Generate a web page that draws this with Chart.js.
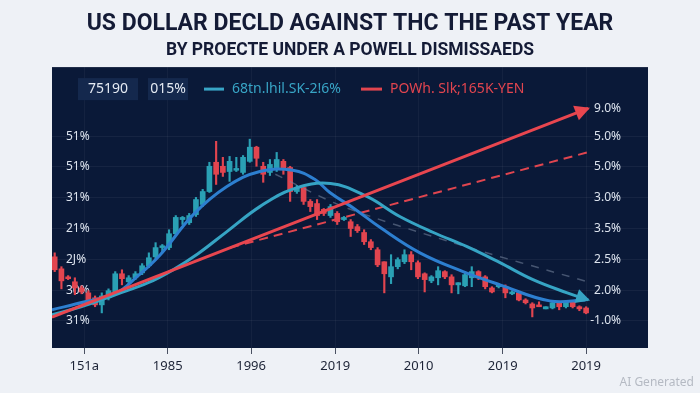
<!DOCTYPE html>
<html>
<head>
<meta charset="utf-8">
<script src="https://cdn.jsdelivr.net/npm/chart.js@4.4.1/dist/chart.umd.min.js"></script>
<style>
  html, body { margin: 0; padding: 0; background: #eef1f6; }
  #chart { display: block; }
</style>
</head>
<body>
<canvas id="chart" width="700" height="393"></canvas>
<script>
'use strict';

// candles, one per period (index = x position)
const candleOpen = [2.08, 1.69, 1.43, 1.27, 1.07, 0.91, 0.75, 0.52, 0.75, 0.94,
  1.53, 1.27, 1.40, 1.56, 1.79, 2.08, 2.38, 2.38, 2.83, 3.29,
  3.19, 3.45, 3.78, 4.20, 5.15, 5.02, 4.85, 4.89, 4.82, 5.18,
  5.64, 5.02, 4.82, 4.92, 5.18, 4.98, 4.20, 4.33, 3.88, 3.81,
  3.62, 3.42, 3.49, 3.29, 3.22, 3.06, 2.87, 2.57, 2.31, 1.92,
  1.43, 1.76, 1.92, 2.15, 1.89, 1.53, 1.30, 1.40, 1.60, 1.43,
  1.17, 1.14, 1.40, 1.60, 1.43, 1.07, 1.11, 1.11, 0.88, 0.91,
  0.68, 0.55, 0.52, 0.39, 0.42, 0.59, 0.46, 0.62, 0.46, 0.42];
const candleClose = [1.66, 1.30, 1.37, 1.07, 0.94, 0.62, 0.52, 0.81, 0.98, 1.53,
  1.37, 1.40, 1.53, 1.79, 2.05, 2.38, 2.44, 2.83, 3.36, 3.36,
  3.42, 3.94, 4.20, 5.02, 4.76, 4.82, 5.18, 4.95, 5.31, 5.64,
  5.28, 4.76, 5.08, 5.24, 4.92, 4.20, 4.33, 3.88, 3.71, 3.42,
  3.49, 3.71, 3.22, 3.36, 3.00, 2.93, 2.57, 2.38, 1.82, 1.53,
  1.76, 1.99, 2.15, 1.92, 1.43, 1.34, 1.43, 1.63, 1.43, 1.17,
  1.24, 1.50, 1.60, 1.40, 1.11, 0.94, 1.17, 0.91, 0.94, 0.68,
  0.59, 0.42, 0.46, 0.46, 0.59, 0.46, 0.62, 0.46, 0.39, 0.26];
const candleHigh = [2.21, 1.76, 1.47, 1.40, 1.14, 0.98, 0.81, 0.91, 1.04, 1.60,
  1.66, 1.47, 1.60, 1.86, 2.21, 2.54, 2.48, 2.96, 3.42, 3.39,
  3.49, 4.01, 4.27, 5.15, 5.83, 5.31, 5.34, 5.31, 5.37, 5.90,
  5.67, 5.15, 5.24, 5.47, 5.24, 5.02, 4.40, 4.40, 3.94, 3.94,
  3.65, 3.78, 3.55, 3.39, 3.29, 3.13, 2.96, 2.64, 2.38, 1.92,
  2.15, 2.05, 2.31, 2.25, 1.95, 1.56, 1.47, 1.76, 1.63, 1.50,
  1.24, 1.60, 1.76, 1.63, 1.47, 1.11, 1.21, 1.17, 0.98, 0.94,
  0.72, 0.59, 0.62, 0.46, 0.62, 0.62, 0.65, 0.65, 0.49, 0.46];
const candleLow = [1.60, 1.04, 1.34, 0.85, 0.88, 0.55, 0.46, 0.26, 0.68, 0.88,
  1.17, 1.21, 1.34, 1.50, 1.73, 1.99, 2.21, 2.31, 2.80, 3.13,
  3.13, 3.39, 3.71, 4.17, 4.43, 4.69, 4.53, 4.85, 4.76, 5.15,
  5.02, 4.50, 4.72, 4.85, 4.76, 3.88, 4.14, 3.78, 3.55, 3.29,
  3.42, 3.36, 3.13, 3.26, 2.74, 2.87, 2.48, 2.31, 1.76, 0.91,
  1.21, 1.69, 1.86, 1.66, 1.37, 0.94, 1.24, 1.17, 1.37, 0.91,
  0.88, 1.11, 1.11, 1.34, 1.04, 0.91, 1.07, 0.75, 0.85, 0.65,
  0.55, 0.13, 0.46, 0.39, 0.39, 0.36, 0.42, 0.42, 0.33, 0.23];

// trend curves (x in candle index, y in axis units)
const fastMaX = [-0.4, 4.5, 9.0, 12.2, 15.7, 20.6, 25.6, 30.5, 35.4, 38.7, 40.9, 44.7, 48.4, 54.3, 60.7, 66.2, 73.6, 78.9];
const fastMaY = [0.36, 0.62, 0.88, 1.43, 2.15, 3.45, 4.36, 4.85, 4.89, 4.59, 4.17, 3.62, 3.03, 2.21, 1.60, 1.17, 0.65, 0.68];
const slowMaX = [-0.4, 3.9, 9.0, 13.9, 17.6, 21.3, 25.6, 30.5, 35.4, 41.0, 46.4, 51.3, 56.3, 61.3, 66.2, 71.1, 76.2, 79.3];
const slowMaY = [0.20, 0.46, 0.85, 1.24, 1.66, 2.18, 2.90, 3.71, 4.28, 4.46, 4.04, 3.39, 2.87, 2.41, 1.89, 1.34, 0.91, 0.68];
const trendX = [-0.4, 79.3];
const trendY = [0.12, 6.90];
const trendDashX = [26.1, 79.2];
const trendDashY = [2.38, 5.47];
const grayDashX = [32.8, 42.9, 59.2, 79.2];
const grayDashY = [4.76, 3.71, 2.54, 1.27];

// axes
const xTickPos = [4.4, 16.8, 29.2, 41.7, 54.1, 66.6, 79.0];
const xTickLabels = ['151a', '1985', '1996', '2019', '2010', '2019', '2019'];
const leftTickPos = [0, 1, 2, 3, 4, 5, 6];
const leftTickLabels = ['31%', '30%', '2J%', '21%', '31%', '51%', '51%'];
const rightTickPos = [0, 1, 2, 3, 4, 5, 6, 6.9];
const rightTickLabels = ['-1.0%', '2.0%', '2.5%', '3.5%', '3.0%', '5.0%', '5.0%', '9.0%'];

const UP = '#2aa0b4';
const DOWN = '#e2454f';
const candleColors = candleOpen.map((o, i) => candleClose[i] >= o ? UP : DOWN);
const pts = (xs, ys) => xs.map((x, i) => ({x: x, y: ys[i]}));

// dark panel behind the plot
const panelBg = {
  id: 'panelBg',
  beforeDraw(chart) {
    const {ctx, chartArea: a} = chart;
    ctx.save();
    ctx.fillStyle = '#0a1938';
    ctx.fillRect(a.left, a.top, a.right - a.left, a.bottom - a.top);
    ctx.restore();
  }
};

// arrow heads at the end of the marked lines
const arrowHeads = {
  id: 'arrowHeads',
  afterDatasetsDraw(chart) {
    const ctx = chart.ctx;
    chart.data.datasets.forEach((ds, i) => {
      if (!ds.arrow) return;
      const pts = chart.getDatasetMeta(i).data;
      const p1 = pts[pts.length - 2], p2 = pts[pts.length - 1];
      const ang = Math.atan2(p2.y - p1.y, p2.x - p1.x);
      const len = ds.arrow, w = ds.arrow * 0.6;
      ctx.save();
      ctx.translate(p2.x, p2.y);
      ctx.rotate(ang);
      ctx.fillStyle = ds.borderColor;
      ctx.beginPath();
      ctx.moveTo(2, 0);
      ctx.lineTo(-len, -w);
      ctx.lineTo(-len, w);
      ctx.closePath();
      ctx.fill();
      ctx.restore();
    });
  }
};

// top legend row inside the panel + watermark
const legendRow = {
  id: 'legendRow',
  afterDraw(chart) {
    const {ctx, chartArea: a} = chart;
    const cy = a.top + 22;
    ctx.save();
    ctx.font = '14px "Noto Sans"';
    ctx.textBaseline = 'middle';
    ctx.textAlign = 'center';
    ctx.fillStyle = '#14284d';
    ctx.fillRect(a.left + 26, cy - 11, 60, 22);
    ctx.fillRect(a.left + 96, cy - 11, 40, 22);
    ctx.fillStyle = '#e4eaf3';
    ctx.fillText('75190', a.left + 56, cy);
    ctx.fillText('015%', a.left + 116, cy);
    ctx.textAlign = 'left';
    ctx.lineWidth = 3;
    ctx.strokeStyle = '#38a5c6';
    ctx.beginPath(); ctx.moveTo(a.left + 152, cy); ctx.lineTo(a.left + 172, cy); ctx.stroke();
    ctx.fillStyle = '#38a5c6';
    ctx.fillText('68tn.lhil.SK-2!6%', a.left + 180, cy);
    ctx.strokeStyle = DOWN;
    ctx.beginPath(); ctx.moveTo(a.left + 309, cy); ctx.lineTo(a.left + 330, cy); ctx.stroke();
    ctx.fillStyle = DOWN;
    ctx.fillText('POWh. Slk;165K-YEN', a.left + 338, cy);
    ctx.font = '12px "Noto Sans"';
    ctx.textAlign = 'right';
    ctx.fillStyle = '#b5bac3';
    ctx.fillText('AI Generated', chart.width - 6, chart.height - 10);
    ctx.restore();
  }
};

new Chart(document.getElementById('chart'), {
  type: 'bar',
  data: {
    datasets: [{
      type: 'line', data: pts(trendX, trendY), borderColor: '#e8464f', borderWidth: 3,
      pointRadius: 0, arrow: 13, yAxisID: 'yL', order: 1
    }, {
      type: 'line', data: pts(slowMaX, slowMaY), borderColor: '#36a4c4', borderWidth: 3,
      pointRadius: 0, tension: 0.4, arrow: 12, yAxisID: 'yL', order: 2
    }, {
      type: 'line', data: pts(fastMaX, fastMaY), borderColor: '#2d7fd0', borderWidth: 3,
      pointRadius: 0, tension: 0.4, yAxisID: 'yL', order: 3
    }, {
      type: 'line', data: pts(trendDashX, trendDashY), borderColor: '#e0454f', borderWidth: 2,
      borderDash: [9, 6], pointRadius: 0, yAxisID: 'yL', order: 4
    }, {
      type: 'line', data: pts(grayDashX, grayDashY), borderColor: 'rgba(120,135,160,0.55)', borderWidth: 1.5,
      borderDash: [8, 8], pointRadius: 0, tension: 0.3, yAxisID: 'yL', order: 5
    }, {
      // candle bodies
      data: candleOpen.map((o, i) => ({x: i, y: [o, candleClose[i]]})),
      backgroundColor: candleColors, barThickness: 5, grouped: false, yAxisID: 'yL', order: 6
    }, {
      // wicks
      data: candleLow.map((l, i) => ({x: i, y: [l, candleHigh[i]]})),
      backgroundColor: candleColors, barThickness: 1.5, grouped: false, yAxisID: 'yL', order: 7
    }]
  },
  options: {
    responsive: false,
    devicePixelRatio: 1,
    animation: false,
    layout: { padding: { left: 52, right: 52, top: 0, bottom: 0 } },
    plugins: {
      legend: { display: false },
      tooltip: { enabled: false },
      title: {
        display: true, text: 'US DOLLAR DECLD AGAINST THC THE PAST YEAR', color: '#141b36',
        font: { family: 'Roboto', size: 23, weight: 'bold' }, padding: { top: 10, bottom: 2 }
      },
      subtitle: {
        display: true, text: 'BY PROECTE UNDER A POWELL DISMISSAEDS', color: '#141b36',
        font: { family: 'Roboto', size: 17.5, weight: 'bold' }, padding: { top: 1, bottom: 5.5 }
      }
    },
    scales: {
      x: {
        type: 'linear', min: -0.4, max: 88.2, offset: false,
        afterBuildTicks: s => { s.ticks = xTickPos.map(v => ({value: v})); },
        afterFit: s => { s.height = 45; },
        ticks: {
          callback: (v, i) => xTickLabels[i], autoSkip: false, maxRotation: 0,
          color: '#1c2336', font: { family: 'Noto Sans', size: 13 }, padding: 4
        },
        grid: { offset: false, color: 'rgba(255,255,255,0.045)', tickColor: '#4a5162', tickLength: 6 },
        border: { display: false }
      },
      yL: {
        position: 'left', min: -0.88, max: 8.24,
        afterBuildTicks: s => { s.ticks = leftTickPos.map(v => ({value: v})); },
        afterFit: s => { s.width = 0; },
        ticks: {
          mirror: true, padding: 14, callback: (v, i) => leftTickLabels[i],
          color: '#dce3ee', font: { family: 'Noto Sans', size: 12 }
        },
        grid: { color: 'rgba(255,255,255,0.05)', drawTicks: false },
        border: { display: false }
      },
      yR: {
        position: 'right', min: -0.88, max: 8.24,
        afterBuildTicks: s => { s.ticks = rightTickPos.map(v => ({value: v})); },
        afterFit: s => { s.width = 0; },
        ticks: {
          mirror: true, padding: -27, callback: (v, i) => rightTickLabels[i],
          color: '#dce3ee', font: { family: 'Noto Sans', size: 12 }
        },
        grid: { display: false },
        border: { display: false }
      }
    }
  },
  plugins: [panelBg, arrowHeads, legendRow]
});
</script>
</body>
</html>
